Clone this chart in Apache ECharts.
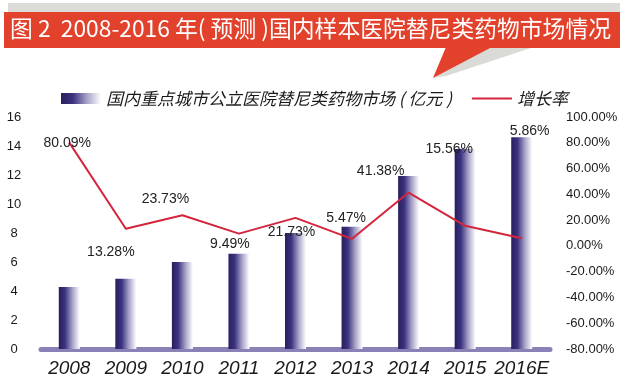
<!DOCTYPE html>
<html><head><meta charset="utf-8">
<script src="https://cdn.jsdelivr.net/npm/echarts@6/dist/echarts.min.js"></script>
<style>html,body{margin:0;padding:0;background:#fff}#c{width:629px;height:389px}</style>
</head><body><div id="c"></div>
<script>
const categories = ['2008','2009','2010','2011','2012','2013','2014','2015','2016E'];
const marketValues = [4.28, 4.85, 6.0, 6.57, 8.0, 8.43, 11.93, 13.8, 14.6];
const growthRates = [80.09, 13.28, 23.73, 9.49, 21.73, 5.47, 41.38, 15.56, 5.86];
const leftTicks = {min: 0, max: 16, interval: 2};
const rightTicks = {min: -80, max: 100, interval: 20};
const titleText = '图 2  2008-2016 年( 预测 )国内样本医院替尼类药物市场情况';
const barName = '国内重点城市公立医院替尼类药物市场 ( 亿元 )';
const lineName = '增长率';

// label placement (style, not data)
const labelOffsets = [[-2,0],[-15,23],[-17,-16],[-9,10],[-4,14],[-6,-21],[-28,-21],[-16,-77],[8,-107]];

const chart = echarts.init(document.getElementById('c'));
const barGrad = new echarts.graphic.LinearGradient(0,0,1,0,[
  {offset:0,color:'#2a1e5c'},{offset:0.3,color:'#3b3380'},{offset:0.65,color:'#a7a3c8'},{offset:1,color:'#ffffff'}]);
const txt = '#1a1a1a';
const font = '"Liberation Sans", Arial, sans-serif';
chart.setOption({
  animation:false,
  graphic:[
    {type:'rect',shape:{x:8,y:3,width:612,height:11},style:{fill:'#dcdcd8'},z:1},
    {type:'polygon',shape:{points:[[488,47],[540,45],[446,76],[433,78]]},style:{fill:'#dadad6'},z:1},
    {type:'rect',shape:{x:4,y:12,width:616,height:36},style:{fill:'#e2412b'},z:2},
    {type:'polygon',shape:{points:[[446,47],[492,47],[433,78]]},style:{fill:'#e2412b'},z:2},
    {type:'text',left:10,top:17,style:{text:titleText,fill:'#fff',font:'22.8px "Noto Sans CJK SC"'},z:3}
  ],
  legend:{
    left:56, top:85, itemWidth:40, itemHeight:11, itemGap:20,
    textStyle:{color:txt,fontSize:17,fontStyle:'italic',fontFamily:'"Noto Sans CJK SC"'},
    data:[{name:barName,icon:'rect'},{name:lineName,icon:'path://M0,0L40,0L40,2L0,2Z'}]
  },
  grid:{left:41,right:79,top:117,bottom:40},
  xAxis:{type:'category',data:categories,
    axisLine:{lineStyle:{color:'#8a82b6',width:5}},axisTick:{show:false},
    axisLabel:{interval:0,color:txt,fontSize:19,fontStyle:'italic',fontFamily:font,margin:10}},
  yAxis:[
    {type:'value',min:leftTicks.min,max:leftTicks.max,interval:leftTicks.interval,
     splitLine:{show:false},axisLine:{show:false},axisTick:{show:false},
     axisLabel:{color:txt,fontSize:13,fontFamily:font,margin:27,align:'center'}},
    {type:'value',min:rightTicks.min,max:rightTicks.max,interval:rightTicks.interval,position:'right',
     splitLine:{show:false},axisLine:{show:false},axisTick:{show:false},
     axisLabel:{color:txt,fontSize:13,fontFamily:font,margin:16,formatter:v=>v.toFixed(2)+'%'}}
  ],
  series:[
    {name:barName,type:'bar',data:marketValues,barWidth:21,itemStyle:{color:barGrad}},
    {name:lineName,type:'line',yAxisIndex:1,symbol:'circle',symbolSize:1,
     lineStyle:{color:'#d3263c',width:2},itemStyle:{color:'#d3263c'},
     data:growthRates.map((v,i)=>({value:v,label:{offset:labelOffsets[i]}})),
     label:{show:true,position:'inside',color:'#222',fontSize:14,fontFamily:font,
       formatter:p=>p.value.toFixed(2)+'%'},z:5}
  ]
});
</script></body></html>
